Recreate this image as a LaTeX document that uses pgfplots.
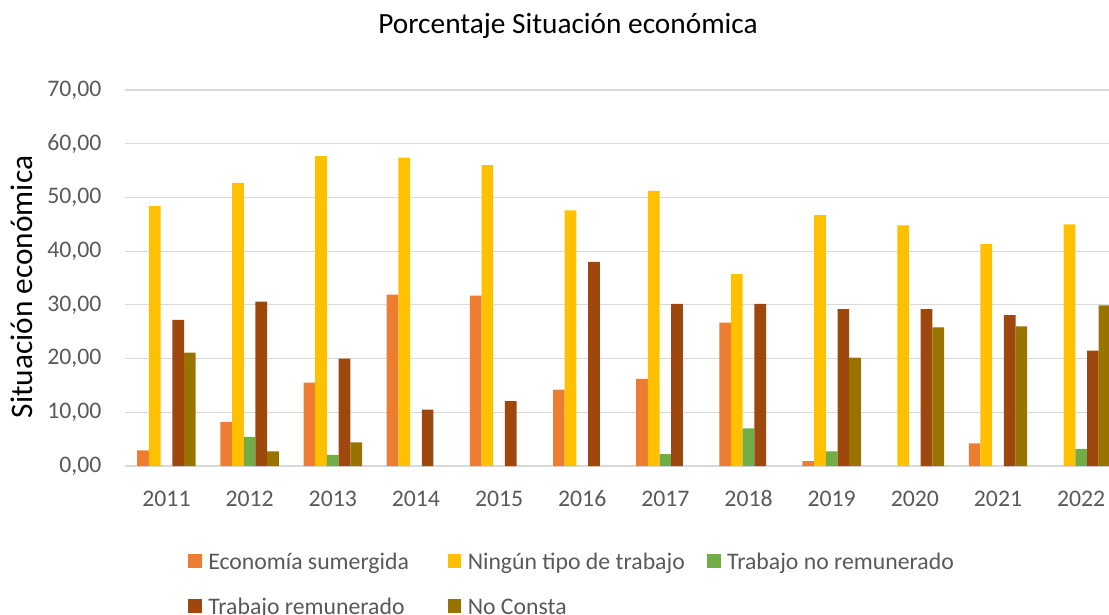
\documentclass[border=0pt]{standalone}
\usepackage{pgfplots}
\pgfplotsset{compat=1.18}
\usepackage{fontspec}
\setmainfont{Carlito}
\definecolor{cOrange}{HTML}{ED7D31}
\definecolor{cYellow}{HTML}{FFC000}
\definecolor{cGreen}{HTML}{70AD47}
\definecolor{cBrown}{HTML}{9E480E}
\definecolor{cOlive}{HTML}{997300}
\definecolor{cGrid}{HTML}{D9D9D9}
\definecolor{cText}{HTML}{595959}
\begin{document}
\begin{tikzpicture}
\begin{axis}[
  scale only axis,
  width=738.08pt, height=282pt,
  xmin=-0.5, xmax=11.335,
  ymin=0, ymax=70,
  ybar=0pt, bar width=8.77pt,
  xtick={0,1,2,3,4,5,6,7,8,9,10,11},
  xticklabels={2011,2012,2013,2014,2015,2016,2017,2018,2019,2020,2021,2022},
  ytick={0,10,20,30,40,50,60,70},
  yticklabel style={/pgf/number format/fixed, /pgf/number format/fixed zerofill, /pgf/number format/precision=2, /pgf/number format/use comma, /pgf/number format/assume math mode=true,
    anchor=east, inner sep=0pt, xshift=-17.4pt, font=\fontsize{17.8}{20}\selectfont, text=cText},
  xticklabel style={anchor=base, inner sep=0pt, font=\fontsize{17.8}{20}\selectfont, text=cText},
  xticklabel shift=30pt,
  major tick length=0pt,
  ymajorgrids, major grid style={cGrid, line width=0.9pt},
  axis x line*=bottom, axis y line*=left,
  x axis line style={cGrid, line width=0.9pt, -},
  y axis line style={draw=none},
  every axis title shift=0pt,
  title={Porcentaje Situación económica},
  title style={at={(axis description cs:0.4503,1.149)}, anchor=base, inner sep=0pt, font=\fontsize{22}{26}\selectfont, text=black},
  ylabel={Situación económica},
  every axis y label/.style={at={(axis description cs:-0.0934,0.476)}, rotate=90, anchor=base, inner sep=0pt, font=\fontsize{23.5}{27}\selectfont, text=black},
  legend columns=3,
  legend image code/.code={\fill[#1] (0pt,1.1pt) rectangle (10pt,11.1pt);},
  legend style={at={(axis description cs:0.0644,-0.2316)}, anchor=north west, draw=none, inner sep=0pt, outer sep=0pt,
    column sep=0pt, row sep=17.75pt, font=\fontsize{17.8}{20}\selectfont, text=cText,
    nodes={anchor=base west, inner xsep=5pt, inner ysep=0pt, text width=174.6pt, align=flush left, text height=12pt, text depth=4pt}},
]
\addplot[fill=cOrange, draw=none] coordinates {(0,2.9) (1,8.2) (2,15.5) (3,31.9) (4,31.7) (5,14.2) (6,16.2) (7,26.7) (8,0.9) (10,4.2)};
\addlegendentry{Economía sumergida}
\addplot[fill=cYellow, draw=none] coordinates {(0,48.4) (1,52.7) (2,57.7) (3,57.4) (4,56.0) (5,47.6) (6,51.2) (7,35.7) (8,46.7) (9,44.8) (10,41.3) (11,45.0)};
\addlegendentry{Ningún tipo de trabajo}
\addplot[fill=cGreen, draw=none] coordinates {(1,5.4) (2,2.05) (6,2.2) (7,7.0) (8,2.7) (11,3.2)};
\addlegendentry{Trabajo no remunerado}
\addplot[fill=cBrown, draw=none] coordinates {(0,27.2) (1,30.6) (2,20.0) (3,10.5) (4,12.1) (5,38.0) (6,30.2) (7,30.2) (8,29.2) (9,29.2) (10,28.1) (11,21.5)};
\addlegendentry{Trabajo remunerado}
\addplot[fill=cOlive, draw=none] coordinates {(0,21.1) (1,2.7) (2,4.4) (8,20.2) (9,25.8) (10,26.0) (11,29.9)};
\addlegendentry{No Consta}
\end{axis}
\pgfresetboundingbox
\path[use as bounding box] (-93.68pt,-111.75pt) rectangle (738.08pt,349.5pt);
\end{tikzpicture}
\end{document}
